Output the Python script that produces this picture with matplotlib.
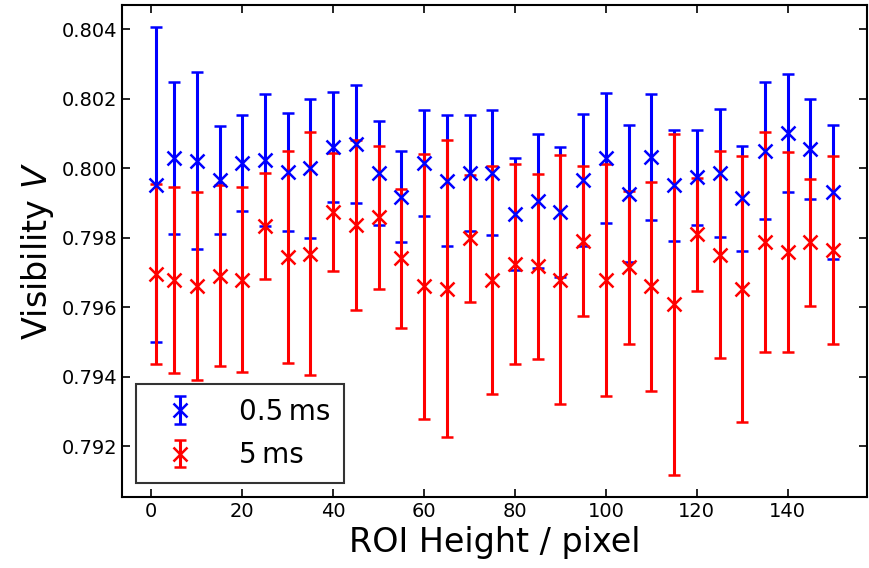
import matplotlib
matplotlib.use("Agg")
import matplotlib.pyplot as plt
import numpy as np

# ROI heights
roi = [1, 5, 10, 15, 20, 25, 30, 35, 40, 45, 50, 55, 60, 65, 70, 75,
       80, 85, 90, 95, 100, 105, 110, 115, 120, 125, 130, 135, 140, 145, 150]

# 0.5 ms exposure
vis_05 = [0.79952, 0.80029, 0.80021, 0.79966, 0.80016, 0.80024, 0.79990, 0.80000,
          0.80060, 0.80069, 0.79987, 0.79918, 0.80014, 0.79964, 0.79987, 0.79987,
          0.79868, 0.79905, 0.79874, 0.79966, 0.80029, 0.79926, 0.80032, 0.79950,
          0.79974, 0.79986, 0.79913, 0.80050, 0.80101, 0.80055, 0.79932]
err_05 = [0.00453, 0.00220, 0.00255, 0.00155, 0.00138, 0.00190, 0.00170, 0.00200,
          0.00158, 0.00170, 0.00150, 0.00132, 0.00152, 0.00188, 0.00167, 0.00180,
          0.00160, 0.00193, 0.00187, 0.00190, 0.00187, 0.00197, 0.00181, 0.00160,
          0.00137, 0.00183, 0.00151, 0.00197, 0.00170, 0.00145, 0.00193]

# 5 ms exposure
vis_5 = [0.79694, 0.79679, 0.79660, 0.79691, 0.79679, 0.79834, 0.79743, 0.79754,
         0.79874, 0.79836, 0.79858, 0.79740, 0.79660, 0.79653, 0.79798, 0.79679,
         0.79725, 0.79717, 0.79679, 0.79791, 0.79677, 0.79715, 0.79660, 0.79608,
         0.79809, 0.79751, 0.79653, 0.79788, 0.79759, 0.79786, 0.79764]
err_5 = [0.00259, 0.00268, 0.00270, 0.00260, 0.00267, 0.00153, 0.00305, 0.00349,
         0.00170, 0.00244, 0.00205, 0.00199, 0.00381, 0.00427, 0.00182, 0.00328,
         0.00288, 0.00266, 0.00359, 0.00216, 0.00334, 0.00220, 0.00300, 0.00490,
         0.00162, 0.00298, 0.00383, 0.00316, 0.00287, 0.00183, 0.00271]

plt.rcParams['font.family'] = ['DejaVu Sans']

fig, ax = plt.subplots(figsize=(8.69, 5.68), dpi=100)

ax.errorbar(roi, vis_05, yerr=err_05, fmt='x', color='blue', ms=9.5, mew=1.8,
            elinewidth=2.2, capsize=4.5, capthick=2.2, label='0.5\u2009ms')
ax.errorbar(roi, vis_5, yerr=err_5, fmt='x', color='red', ms=9.5, mew=1.8,
            elinewidth=2.2, capsize=4.5, capthick=2.2, label='5\u2009ms')

ax.set_xticks([0, 20, 40, 60, 80, 100, 120, 140])
ax.set_yticks([0.792, 0.794, 0.796, 0.798, 0.800, 0.802, 0.804])
ax.tick_params(direction='in', top=True, right=True, labelsize=14, length=6, width=1.2)
for s in ax.spines.values():
    s.set_linewidth(1.5)

ax.set_xlabel('ROI Height / pixel', fontsize=24)
ax.set_ylabel('Visibility $V$', fontsize=24)

leg = ax.legend(loc='lower left', fontsize=20, fancybox=False, edgecolor='#333333',
                framealpha=1, handlelength=2.2, handletextpad=1.0,
                borderpad=0.5, labelspacing=0.55)
leg.get_frame().set_linewidth(1.5)

fig.subplots_adjust(left=0.1404, right=0.9977, top=0.9912, bottom=0.125)
fig.savefig('out.png', dpi=100)
